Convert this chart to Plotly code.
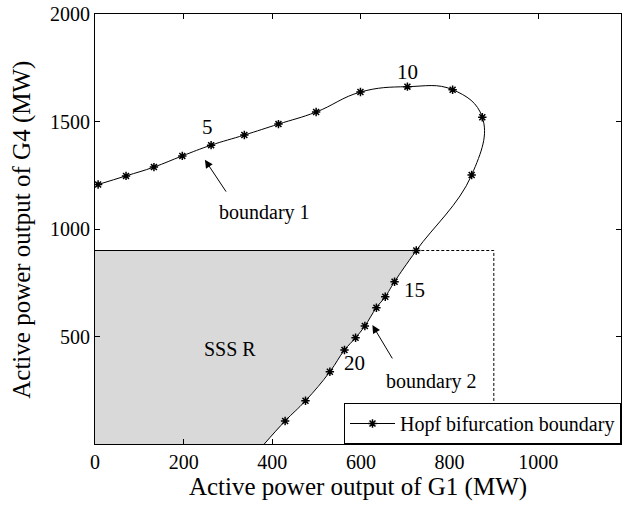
import plotly.graph_objects as go

# Hopf bifurcation boundary markers (MW)
hopf_x = [7, 70, 133, 197, 262, 337, 414, 499, 599, 705, 807, 874, 850, 725,
          676, 655, 635, 609, 588, 563, 530, 475, 429]
hopf_y = [1207, 1247, 1288, 1340, 1390, 1437, 1488, 1544, 1637, 1662, 1648, 1520, 1251, 900,
          755, 685, 634, 549, 494, 437, 336, 201, 107]
# where the curve leaves the plot at the bottom
curve_end_x = [382]
curve_end_y = [0]

# operating limits
limit_g1 = 900
limit_g4 = 900

x_ticks = [0, 200, 400, 600, 800, 1000]
y_ticks = [500, 1000, 1500, 2000]

FONT = "Liberation Serif, Times New Roman, serif"

fig = go.Figure()

# SSSR shaded region: left axis, top limit line, then boundary 2 down to the axis
k = hopf_y.index(limit_g4)
reg_x = [0, 0] + hopf_x[k:] + curve_end_x + [0]
reg_y = [0, limit_g4] + hopf_y[k:] + curve_end_y + [0]
fig.add_trace(go.Scatter(x=reg_x, y=reg_y, mode="lines", fill="toself",
                         fillcolor="#d9d9d9", line=dict(width=0), hoverinfo="skip",
                         showlegend=False))
# top edge of the region (solid)
fig.add_trace(go.Scatter(x=[0, hopf_x[k]], y=[limit_g4, limit_g4], mode="lines",
                         line=dict(color="black", width=1), showlegend=False))
# dashed limit box
fig.add_trace(go.Scatter(x=[hopf_x[k], limit_g1, limit_g1], y=[limit_g4, limit_g4, 0],
                         mode="lines", line=dict(color="black", width=1, dash="3px,2px"),
                         showlegend=False))

# curve line (spline, continues to axis)
fig.add_trace(go.Scatter(x=hopf_x + curve_end_x, y=hopf_y + curve_end_y, mode="lines",
                         line=dict(color="black", width=1, shape="spline", smoothing=1.2),
                         showlegend=False))
# markers
fig.add_trace(go.Scatter(x=hopf_x, y=hopf_y, mode="markers", showlegend=False,
                         marker=dict(symbol="asterisk", size=7, color="black",
                                     line=dict(color="black", width=1.5))))
# legend entry
fig.add_trace(go.Scatter(x=[None], y=[None], mode="lines+markers",
                         name="Hopf bifurcation boundary",
                         line=dict(color="black", width=1),
                         marker=dict(symbol="asterisk", size=7, color="black",
                                     line=dict(color="black", width=1.5))))

ann = []
def label(x, y, t, size=21):
    ann.append(dict(x=x, y=y, text=t, showarrow=False, xref="x", yref="y",
                    font=dict(family=FONT, size=size, color="black")))

label(253, 1474, "5")
label(705, 1730, "10")
label(720, 716, "15")
label(585, 377, "20")
label(305, 442, "SSS R", 20)
label(382, 1076, "boundary 1", 20)
label(759, 290, "boundary 2", 20)

for hx, hy, tx, ty in [(248, 1322, 298, 1167), (626, 553, 673, 391)]:
    ann.append(dict(x=hx, y=hy, ax=tx, ay=ty, xref="x", yref="y", axref="x", ayref="y",
                    text="", showarrow=True, arrowhead=2, arrowsize=1.6, arrowwidth=1,
                    arrowcolor="black"))

# y axis title placed as rotated text
ann.append(dict(x=-0.139, y=0.498, xref="paper", yref="paper", showarrow=False,
                xanchor="center", yanchor="middle",
                text="Active power output of G4 (MW)", textangle=-90,
                font=dict(family=FONT, size=25, color="black")))

axis_common = dict(showline=True, linecolor="black", linewidth=1, mirror="ticks",
                   ticks="inside", ticklen=5, tickcolor="black", showgrid=False,
                   zeroline=False, tickfont=dict(family=FONT, size=20, color="black"))

fig.update_layout(
    width=622, height=505,
    margin=dict(l=95, r=1, t=14, b=61, autoexpand=False),
    paper_bgcolor="white", plot_bgcolor="white",
    font=dict(family=FONT, color="black"),
    annotations=ann,
    xaxis=dict(range=[0, 1187], tickvals=x_ticks, automargin=False,
               title=dict(text="Active power output of G1 (MW)",
                          font=dict(family=FONT, size=25), standoff=4),
               **axis_common),
    yaxis=dict(range=[0, 2000], tickvals=y_ticks, automargin=False,
               **axis_common),
    legend=dict(x=1, y=0, xanchor="right", yanchor="bottom",
                bgcolor="white", bordercolor="black", borderwidth=1,
                font=dict(family=FONT, size=20, color="black"),
                tracegroupgap=0, itemwidth=45),
)

fig.write_html("out.html")
